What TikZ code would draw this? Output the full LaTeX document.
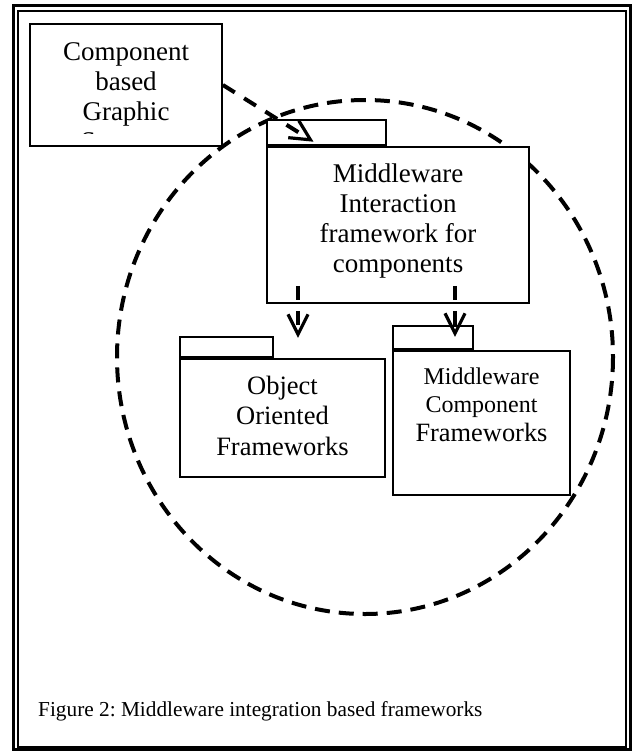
\documentclass[tikz,border=0pt]{standalone}
\usepackage{fontspec}
\setmainfont{Liberation Serif}
\usetikzlibrary{arrows.meta}
\tikzset{>={Straight Barb[length=20bp,width=20bp,line width=3.2bp]}}
\tikzset{
    pkgbody/.style={draw, fill=white, line width=1.8bp, inner sep=0pt},
    pkgtab/.style={pkgbody, anchor=south west},
    pkgtext/.style={inner sep=0pt, align=center},
    dep/.style={->, line width=4bp, dash pattern=on 14bp off 11bp},
    ring/.style={line width=4bp, dash pattern=on 15bp off 9bp}
}
\newcommand{\pkgfont}{\fontsize{27bp}{30bp}\selectfont}
\newcommand{\ooFont}{\fontsize{26.5bp}{30.5bp}\selectfont}
\newcommand{\mcFont}{\fontsize{24bp}{28.8bp}\selectfont}
\newcommand{\capFont}{\frenchspacing\fontsize{21.3bp}{24bp}\selectfont}

\begin{document}
\begin{tikzpicture}[x=1bp, y=-1bp]
    \useasboundingbox (0,0) rectangle (633,751);
    % double frame
    \draw[line width=3bp] (13.5,5.5) rectangle (630.5,749.5);
    \draw[line width=2bp] (18,11) rectangle (626,747);
    % dashed ring
    \draw[ring] (365,357) ellipse [x radius=248, y radius=257];
    % graphic systems box
    \node[pkgbody, minimum width=192bp, minimum height=122bp] (cgs) at (126,85) {};
    \begin{scope}
        \clip (cgs.north west) rectangle ([shift={(0,-13)}]cgs.south east);
        \node[pkgtext, font=\pkgfont] (cgs-txt) at (126,99.5) {Component\\based\\Graphic\\Systems};
    \end{scope}
    % middleware interaction
    \node[pkgbody, minimum width=262bp, minimum height=156bp] (mi) at (398,225) {};
    \node[pkgtab, minimum width=119bp, minimum height=25bp] (mi-tab) at (mi.north west) {};
    \node[pkgtext, font=\pkgfont] (mi-txt) at (398,221.5) {Middleware\\Interaction\\framework for\\components};
    % object oriented
    \node[pkgbody, minimum width=205bp, minimum height=118bp] (oo) at (282.5,418) {};
    \node[pkgtab, minimum width=93bp, minimum height=20bp] (oo-tab) at (oo.north west) {};
    \node[pkgtext, font=\ooFont] (oo-txt) at (282.5,415.6) {Object\\Oriented\\Frameworks};
    % middleware component
    \node[pkgbody, minimum width=177bp, minimum height=144bp] (mc) at (481.5,423) {};
    \node[pkgtab, minimum width=80bp, minimum height=23bp] (mc-tab) at (mc.north west) {};
    \node[pkgtext, font=\mcFont] (mc-txt) at (481.5,404.7) {Middleware\\Component\\{\fontsize{26.4bp}{28.8bp}\selectfont Frameworks}};
    % dependencies
    \draw[dep] (cgs.east) -- ([shift={(-13,9)}]mi-tab.center);
    \draw[dep] ([shift={(-100,-18)}]mi.south) -- ([shift={(-100,34)}]mi.south);
    \draw[dep] ([shift={(57,-18)}]mi.south) -- ([shift={(57,33)}]mi.south);
    % caption
    \node[anchor=base west, inner sep=0pt, font=\capFont] (cap) at (38,716) {Figure 2: Middleware integration based frameworks};
\end{tikzpicture}
\end{document}
